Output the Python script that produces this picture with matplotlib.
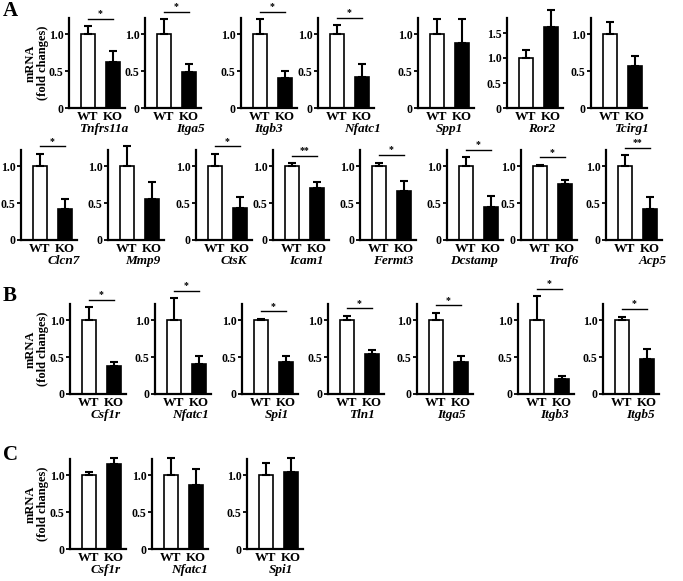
import matplotlib.pyplot as plt
import numpy as np

plt.rcParams['font.family'] = ['Liberation Serif', 'DejaVu Serif']
plt.rcParams['font.weight'] = 'bold'

# ---- data (fold change, mean and upper error) ----
# A, upper row
a1_genes = ["Tnfrs11a", "Itga5", "Itgb3", "Nfatc1", "Spp1", "Ror2", "Tcirg1"]
a1_wt = [1.0, 1.0, 1.0, 1.0, 1.0, 1.0, 1.0]
a1_wt_err = [0.11, 0.20, 0.20, 0.12, 0.20, 0.17, 0.16]
a1_ko = [0.62, 0.49, 0.41, 0.42, 0.88, 1.63, 0.57]
a1_ko_err = [0.15, 0.11, 0.09, 0.18, 0.32, 0.33, 0.14]
a1_sig = ["*", "*", "*", "*", "", "", ""]

# A, lower row
a2_genes = ["Clcn7", "Mmp9", "CtsK", "Icam1", "Fermt3", "Dcstamp", "Traf6", "Acp5"]
a2_wt = [1.0, 1.0, 1.0, 1.0, 1.0, 1.0, 1.0, 1.0]
a2_wt_err = [0.17, 0.28, 0.17, 0.04, 0.05, 0.12, 0.02, 0.15]
a2_ko = [0.42, 0.55, 0.43, 0.70, 0.67, 0.45, 0.76, 0.42]
a2_ko_err = [0.14, 0.24, 0.15, 0.08, 0.13, 0.15, 0.05, 0.16]
a2_sig = ["*", "", "*", "**", "*", "*", "*", "**"]

# B
b_genes = ["Csf1r", "Nfatc1", "Spi1", "Tln1", "Itga5", "Itgb3", "Itgb5"]
b_wt = [1.0, 1.0, 1.0, 1.0, 1.0, 1.0, 1.0]
b_wt_err = [0.18, 0.30, 0.02, 0.06, 0.10, 0.33, 0.05]
b_ko = [0.38, 0.41, 0.43, 0.54, 0.43, 0.21, 0.47]
b_ko_err = [0.05, 0.11, 0.09, 0.06, 0.08, 0.04, 0.14]
b_sig = ["*", "*", "*", "*", "*", "*", "*"]

# C
c_genes = ["Csf1r", "Nfatc1", "Spi1"]
c_wt = [1.0, 1.0, 1.0]
c_wt_err = [0.05, 0.23, 0.16]
c_ko = [1.15, 0.87, 1.05]
c_ko_err = [0.08, 0.21, 0.18]
c_sig = ["", "", ""]

groups = ["WT", "KO"]

# ---- layout in pixels ----
W, H = 683, 581
AX_W, AX_H = 56, 90
PT = 0.72  # points per pixel at dpi 100

fig = plt.figure(figsize=(W / 100, H / 100), dpi=100)
fig.patch.set_facecolor("white")


def box(left, top, w, h):
    return [left / W, 1 - (top + h) / H, w / W, h / H]


def panel(left, top, gene, wt, wt_e, ko, ko_e, sig, name_dx, ymax=1.22,
          yticks=(0, 0.5, 1.0)):
    ax = fig.add_axes(box(left, top, AX_W, AX_H))
    x = np.arange(2)
    ax.bar(x, [wt, ko], width=0.56, color=["white", "black"],
           edgecolor="black", linewidth=1.2, zorder=2)
    eb = ax.errorbar(x, [wt, ko], yerr=[[0, 0], [wt_e, ko_e]], fmt="none",
                     ecolor="black", elinewidth=1.5, capsize=2.6,
                     capthick=1.5, zorder=3)
    for art in list(eb.lines[1]) + list(eb.lines[2]):
        art.set_clip_on(False)

    ax.set_xlim(-0.75, 1.5)
    ax.set_ylim(0, ymax)
    for s in ["top", "right"]:
        ax.spines[s].set_visible(False)
    for s in ["left", "bottom"]:
        ax.spines[s].set_linewidth(1.6)

    ax.set_yticks(list(yticks))
    ax.set_yticklabels(["0" if t == 0 else f"{t:.1f}" for t in yticks])
    ax.tick_params(axis="y", length=3, width=1.3, pad=1, labelsize=8.5)
    ax.set_xticks(x)
    ax.set_xticklabels(groups)
    ax.tick_params(axis="x", length=0, pad=2.0, labelsize=9.3)

    ax.annotate(gene, xy=(0.5, 0), xycoords=("data", "axes fraction"),
                xytext=(name_dx * PT, -21 * PT), textcoords="offset points",
                ha="center", va="center", fontsize=9.5, style="italic",
                fontweight="bold", annotation_clip=False)

    if sig:
        y = max(wt + wt_e, ko + ko_e) + 0.1
        ax.plot([0, 1], [y, y], color="black", lw=1.0, clip_on=False)
        ax.text(0.5, y + 0.01, sig, ha="center", va="bottom", fontsize=7,
                clip_on=False)
    return ax


def row(lefts, top, genes, wt, wt_e, ko, ko_e, sig, dxs, special=None):
    for i, g in enumerate(genes):
        kw = {}
        if special and g in special:
            kw = special[g]
        panel(lefts[i], top, g, wt[i], wt_e[i], ko[i], ko_e[i], sig[i],
              dxs[i], **kw)


ror2 = {"Ror2": dict(ymax=1.8, yticks=(0, 0.5, 1.0, 1.5))}

row([69, 145, 241, 318, 418, 507, 591], 18, a1_genes, a1_wt, a1_wt_err,
    a1_ko, a1_ko_err, a1_sig, [4, 14, -4, 13, 0, 4, 9], special=ror2)
row([21, 108, 196, 273, 360, 447, 521, 606], 150, a2_genes, a2_wt,
    a2_wt_err, a2_ko, a2_ko_err, a2_sig, [12, 4, 7, 2, 2, -4, 11, 16])
row([70, 155, 242, 328, 417, 518, 603], 304, b_genes, b_wt, b_wt_err,
    b_ko, b_ko_err, b_sig, [4, 4, 4, 3, 3, 5, 6])
row([70, 152, 247], 459, c_genes, c_wt, c_wt_err, c_ko, c_ko_err, c_sig,
    [4, 6, 3])

# y labels and panel letters
for yc in [63, 349, 504]:
    fig.text(37 / W, 1 - yc / H, "mRNA\n(fold changes)", rotation=90,
             ha="center", va="center", fontsize=9, linespacing=1.05,
             fontweight="bold", multialignment="center")

for letter, yc in [("A", 11.5), ("B", 296), ("C", 455)]:
    fig.text(3 / W, 1 - yc / H, letter, ha="left", va="center",
             fontsize=15, fontweight="bold")

fig.savefig("out.png", dpi=100, facecolor="white")
